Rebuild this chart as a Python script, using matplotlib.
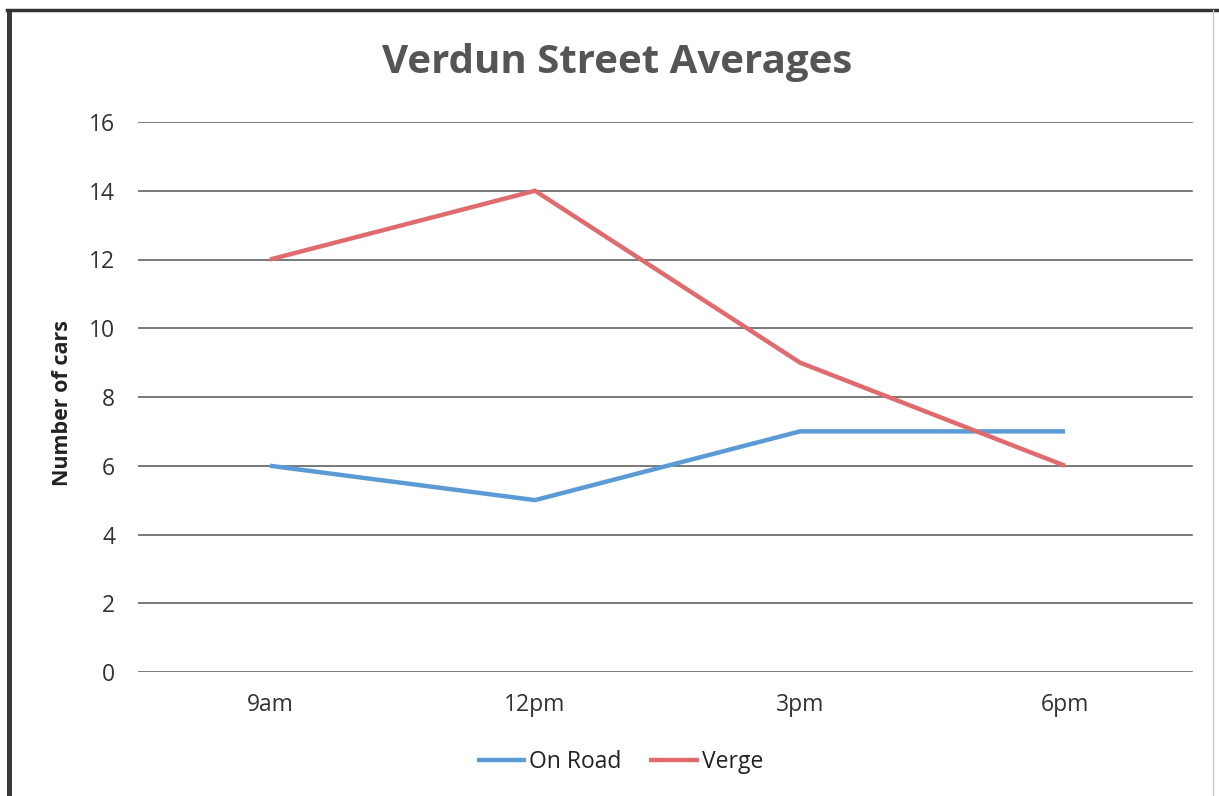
import matplotlib.pyplot as plt
from matplotlib.patches import Rectangle

times = ['9am', '12pm', '3pm', '6pm']
on_road = [6, 5, 7, 7]
verge = [12, 14, 9, 6]
y_ticks = [0, 2, 4, 6, 8, 10, 12, 14, 16]

plt.rcParams['font.family'] = ['Open Sans', 'DejaVu Sans']

fig = plt.figure(figsize=(12.19, 7.96), dpi=100)
ax = fig.add_axes([137.5 / 1219, 1 - 672 / 796, 1060 / 1219, 550 / 796])

# horizontal gridlines (stop a little short of the right edge, like the original)
for t in y_ticks:
    ax.axhline(t, xmin=0, xmax=0.995, color='#555555', lw=1.1, zorder=0)

x = [i + 0.5 for i in range(len(times))]
ax.plot(x, on_road, color='#5B9BD5', lw=3.2, solid_capstyle='butt', label='On Road')
ax.plot(x, verge, color='#E06B6E', lw=3.2, solid_capstyle='butt', label='Verge')

ax.set_xlim(0, 4)
ax.set_ylim(0, 16)
ax.set_yticks(y_ticks)
ax.set_xticks(x)
ax.set_xticklabels(times)
ax.tick_params(length=0, labelsize=16.5, colors='#333333', pad=15)
ax.tick_params(axis='y', pad=16)
for s in ax.spines.values():
    s.set_visible(False)

fig.text(63 / 1219, 1 - 403 / 796, 'Number of cars', rotation=90, ha='center', va='center',
         fontsize=15.5, fontweight='bold', color='#222222')

fig.text(0.506, 0.922, 'Verdun Street Averages', ha='center', va='center',
         fontsize=29, fontweight='bold', color='#555555')

fig.legend(loc='center', bbox_to_anchor=(0.5086, 1 - 762 / 796), ncol=2, frameon=False,
           fontsize=16.5, handlelength=2.15, handletextpad=0.15, columnspacing=1.2,
           labelcolor='#222222')

# scanned chart frame
fig.add_artist(Rectangle((7 / 1219, 0), 5 / 1219, 1 - 10 / 796, transform=fig.transFigure,
                         color='#3a3a3a', lw=0))
fig.add_artist(plt.Line2D([7 / 1219, 1], [1 - 10 / 796, 1 - 10 / 796],
                          transform=fig.transFigure, color='#333333', lw=2.5))
fig.add_artist(plt.Line2D([1213 / 1219, 1213 / 1219], [0, 1 - 10 / 796],
                          transform=fig.transFigure, color='#cccccc', lw=1))

fig.savefig('out.png', dpi=100)
